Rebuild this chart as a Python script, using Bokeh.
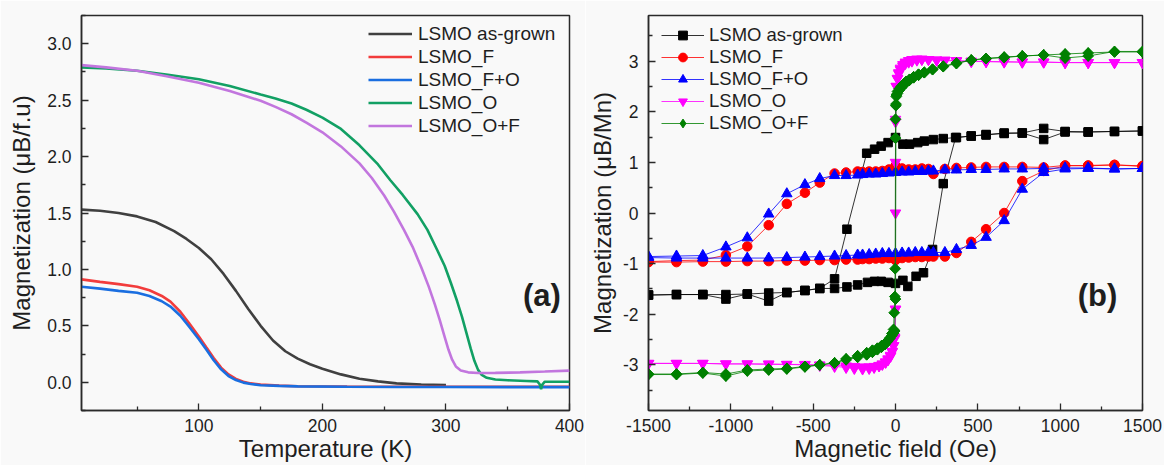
import math
from bokeh.plotting import figure
from bokeh.models import (Range1d, FixedTicker, PrintfTickFormatter, Label,
                          Legend, LegendItem, ColumnDataSource)
from bokeh.layouts import row
from bokeh.embed import file_html
from bokeh.resources import INLINE

FONT = "Liberation Sans"
TXT = "#1e1e1e"
AXC = "#2a2a2a"
BG = "#f9f9f9"

# ---------------- panel (a): M(T) ----------------
T_asgrown = [5, 20, 35, 50, 65, 80, 90, 100, 110, 120, 130, 140, 150, 160, 170, 180,
             190, 200, 215, 230, 245, 260, 280, 300]
M_asgrown = [1.530, 1.52, 1.50, 1.47, 1.42, 1.34, 1.27, 1.19, 1.09, 0.96, 0.81, 0.65,
             0.50, 0.37, 0.275, 0.21, 0.16, 0.12, 0.07, 0.032, 0.008, -0.010, -0.020, -0.025]

T_F = [5, 20, 35, 50, 60, 70, 77, 85, 92, 100, 106, 112, 118, 124, 130, 136, 142, 150,
       165, 180, 220, 260, 300, 350, 400]
M_F = [0.912, 0.89, 0.87, 0.847, 0.815, 0.765, 0.715, 0.625, 0.525, 0.406, 0.31, 0.215,
       0.13, 0.07, 0.03, 0.005, -0.01, -0.02, -0.03, -0.035, -0.038, -0.04, -0.04, -0.04, -0.04]

T_FO = [5, 20, 35, 50, 60, 70, 77, 85, 92, 100, 106, 112, 118, 124, 130, 136, 142, 150,
        165, 180, 220, 260, 300, 350, 400]
M_FO = [0.847, 0.83, 0.81, 0.794, 0.765, 0.718, 0.671, 0.59, 0.495, 0.382, 0.29, 0.195,
        0.115, 0.055, 0.02, -0.003, -0.015, -0.026, -0.032, -0.036, -0.040, -0.042, -0.042,
        -0.043, -0.043]

T_O = [5, 25, 50, 75, 100, 125, 150, 162, 175, 187, 200, 215, 230, 245, 255, 265, 277, 285,
       293, 299, 304, 309, 313, 317, 320, 323, 326, 329, 333, 340, 350, 365, 374, 376, 377,
       378, 380, 390, 400]
M_O = [2.79, 2.78, 2.76, 2.725, 2.685, 2.625, 2.55, 2.515, 2.47, 2.415, 2.345, 2.245, 2.10,
       1.93, 1.79, 1.66, 1.49, 1.35, 1.17, 1.03, 0.88, 0.72, 0.58, 0.42, 0.30, 0.19, 0.11,
       0.065, 0.04, 0.025, 0.018, 0.012, 0.008, -0.02, -0.06, -0.02, 0.005, 0.005, 0.005]

T_OF = [5, 25, 50, 75, 100, 125, 150, 162, 175, 187, 200, 215, 230, 240, 250, 258, 266, 273,
        280, 286, 291, 295, 299, 302, 305, 308, 312, 318, 326, 340, 360, 380, 400]
M_OF = [2.81, 2.79, 2.76, 2.71, 2.655, 2.58, 2.495, 2.44, 2.375, 2.30, 2.215, 2.09, 1.94,
        1.81, 1.655, 1.51, 1.35, 1.20, 1.02, 0.85, 0.69, 0.55, 0.40, 0.29, 0.20, 0.14,
        0.105, 0.088, 0.082, 0.083, 0.088, 0.095, 0.103]

names_a = ["LSMO as-grown", "LSMO_F", "LSMO_F+O", "LSMO_O", "LSMO_O+F"]
colors_a = ["#404040", "#f23c3c", "#1a6ee0", "#12a064", "#c276de"]
temps_a = [T_asgrown, T_F, T_FO, T_O, T_OF]
mags_a = [M_asgrown, M_F, M_FO, M_O, M_OF]

# ---------------- panel (b): M(H) loops ----------------
bk_H_down = [1500, 1330, 1170, 1030, 900, 770, 660, 550, 460, 370, 290, 230, 175, 135, 85, 45,
             0, -45, -87, -127, -175, -295, -370, -460, -550, -660, -770, -900, -1030, -1170,
             -1330, -1500]
bk_M_down = [1.62, 1.61, 1.60, 1.61, 1.67, 1.58, 1.58, 1.54, 1.52, 1.49, 1.47, 1.45, 1.42,
             1.39, 1.36, 1.36, 1.49, 1.39, 1.32, 1.26, 1.18, -0.32, -1.30, -1.49, -1.53,
             -1.57, -1.74, -1.60, -1.70, -1.61, -1.61, -1.62]
bk_H_up = [-1500, -1330, -1170, -1030, -900, -770, -660, -550, -460, -370, -295, -230, -170,
           -127, -87, -45, 0, 45, 75, 125, 170, 225, 290, 365, 460, 550, 660, 770, 900, 1030,
           1170, 1330, 1500]
bk_M_up = [-1.62, -1.61, -1.61, -1.61, -1.60, -1.58, -1.57, -1.53, -1.49, -1.49, -1.46, -1.42,
           -1.37, -1.35, -1.35, -1.37, -1.39, -1.33, -1.45, -1.25, -1.18, -0.72, 0.58, 1.49,
           1.52, 1.55, 1.57, 1.58, 1.45, 1.60, 1.60, 1.61, 1.62]

fb_H_down = [1500, 1330, 1170, 1030, 900, 770, 660, 550, 460, 370, 300, 230, 200, 160, 120,
             80, 40, 0, -40, -80, -120, -160, -200, -230, -300, -370, -460, -550, -660, -770,
             -900, -1030, -1170, -1330, -1500]
fb_H_up = [-1500, -1330, -1170, -1030, -900, -770, -660, -550, -460, -370, -300, -230, -200,
           -160, -120, -80, -40, 0, 40, 80, 120, 160, 200, 230, 300, 370, 460, 550, 660, 770,
           900, 1030, 1170, 1330, 1500]
rd_M_down = [0.92, 0.95, 0.93, 0.94, 0.90, 0.91, 0.91, 0.91, 0.90, 0.89, 0.87, 0.77, 0.87,
             0.88, 0.86, 0.86, 0.88, 0.93, 0.86, 0.83, 0.82, 0.82, 0.81, 0.82, 0.80, 0.78,
             0.60, 0.40, 0.18, -0.24, -0.66, -0.83, -0.93, -0.94, -0.96]
rd_M_up = [-0.97, -0.97, -0.96, -0.96, -0.95, -0.95, -0.94, -0.94, -0.93, -0.93, -0.92, -0.92,
           -0.91, -0.91, -0.90, -0.90, -0.89, -0.93, -0.89, -0.88, -0.87, -0.87, -0.86, -0.86,
           -0.86, -0.79, -0.57, -0.32, 0.00, 0.63, 0.83, 0.93, 0.94, 0.95, 0.93]
bl_M_down = [0.88, 0.87, 0.89, 0.89, 0.88, 0.87, 0.87, 0.86, 0.86, 0.85, 0.85, 0.83, 0.83,
             0.82, 0.82, 0.81, 0.81, 0.80, 0.79, 0.78, 0.77, 0.77, 0.76, 0.75, 0.74, 0.74,
             0.68, 0.56, 0.38, -0.02, -0.49, -0.67, -0.84, -0.85, -0.86]
bl_M_up = [-0.88, -0.89, -0.89, -0.89, -0.89, -0.89, -0.88, -0.87, -0.86, -0.85, -0.84, -0.83,
           -0.83, -0.82, -0.81, -0.80, -0.80, -0.80, -0.79, -0.79, -0.78, -0.78, -0.78, -0.78,
           -0.78, -0.72, -0.64, -0.48, -0.15, 0.47, 0.80, 0.87, 0.88, 0.87, 0.88]

mg_H_down = [1500, 1330, 1170, 1030, 900, 770, 660, 550, 460, 370, 300, 250, 200, 160, 130,
             100, 80, 60, 45, 30, 20, 12, 5, 0, 0, 0, 0, -5, -12, -20, -30, -45, -60, -80,
             -100, -130, -160, -200, -250, -300, -370, -460, -550, -660, -770, -900, -1030,
             -1170, -1330, -1500]
mg_M_down = [2.97, 2.97, 2.97, 2.97, 2.98, 2.98, 2.99, 2.99, 3.00, 3.01, 3.02, 3.02, 3.03,
             3.03, 3.02, 3.00, 2.98, 2.95, 2.90, 2.83, 2.75, 2.65, 2.50, 1.80, 1.00, 0.00,
             -1.90, -2.45, -2.62, -2.74, -2.83, -2.90, -2.95, -2.99, -3.02, -3.05, -3.07,
             -3.08, -3.07, -3.05, -3.03, -3.01, -3.00, -2.99, -2.99, -2.98, -2.98, -2.97,
             -2.97, -2.97]
mg_H_up = [-1500, -1330, -1170, -1030, -900, -770, -660, -550, -460, -370, -300, -250, -200,
           -160, -130, -100, -80, -60, -45, -30, -20, -12, -5, 0, 0, 5, 12, 20, 30, 45, 60,
           80, 100, 130, 160, 200, 250, 300, 370, 460, 550, 660, 770, 900, 1030, 1170, 1330,
           1500]
mg_M_up = [-2.97, -2.97, -2.97, -2.98, -2.98, -2.98, -2.99, -2.99, -3.00, -3.01, -3.02, -3.03,
           -3.04, -3.04, -3.03, -3.01, -2.98, -2.94, -2.88, -2.81, -2.73, -2.62, -2.48,
           -1.90, 1.85, 2.50, 2.66, 2.77, 2.86, 2.93, 2.98, 3.01, 3.03, 3.04, 3.04, 3.03,
           3.02, 3.01, 3.00, 2.99, 2.99, 2.98, 2.98, 2.98, 2.97, 2.97, 2.97, 2.97]

gr_H_down = [1500, 1330, 1170, 1030, 900, 770, 660, 550, 460, 370, 290, 225, 175, 140, 110,
             85, 65, 50, 35, 22, 12, 5, 2, 0, 0, -2, -4, -8, -12, -22, -35, -50, -65, -85,
             -110, -140, -175, -230, -300, -370, -460, -550, -660, -770, -900, -1030, -1170,
             -1330, -1500]
gr_M_down = [3.18, 3.18, 3.16, 3.14, 3.12, 3.10, 3.07, 3.05, 3.02, 2.95, 2.89, 2.83, 2.77,
             2.72, 2.67, 2.62, 2.57, 2.53, 2.47, 2.42, 2.36, 2.30, 2.12, 1.85, 1.48, -1.10,
             -1.65, -1.97, -2.30, -2.38, -2.47, -2.54, -2.60, -2.65, -2.70, -2.75, -2.80,
             -2.85, -2.90, -2.96, -3.00, -3.03, -3.07, -3.08, -3.10, -3.18, -3.15, -3.18, -3.18]
gr_H_up = [-1500, -1330, -1170, -1030, -900, -770, -660, -550, -460, -370, -300, -230, -175,
           -140, -110, -85, -65, -50, -35, -22, -12, -5, 0, 3, 6, 12, 22, 35, 50, 65, 85, 110,
           140, 175, 225, 290, 370, 460, 550, 660, 770, 900, 1030, 1170, 1330, 1500]
gr_M_up = [-3.19, -3.19, -3.16, -3.22, -3.12, -3.10, -3.08, -3.04, -3.00, -2.96, -2.88, -2.82,
           -2.76, -2.71, -2.67, -2.62, -2.58, -2.53, -2.48, -2.42, -2.37, -2.33, -1.70, 2.15,
           2.33, 2.40, 2.45, 2.50, 2.55, 2.60, 2.64, 2.69, 2.74, 2.78, 2.84, 2.90, 2.96, 3.02,
           3.05, 3.08, 3.10, 3.12, 3.06, 3.10, 3.19, 3.19]

names_b = ["LSMO as-grown", "LSMO_F", "LSMO_F+O", "LSMO_O", "LSMO_O+F"]
colors_b = ["#000000", "#ff0000", "#0000ff", "#ff00ff", "#008000"]
markers_b = ["square", "circle", "triangle", "inverted_triangle", "square"]
sizes_b = [8.5, 9.5, 10.5, 10.5, 7.6]
angles_b = [0, 0, 0, 0, math.pi / 4]
# marker drawn beneath the data marks and used as the legend key
keys_b = [None, None, None, None, ("diamond", 10.5)]
loops_b = [
    (bk_H_down, bk_M_down, bk_H_up, bk_M_up),
    (fb_H_down, rd_M_down, fb_H_up, rd_M_up),
    (fb_H_down, bl_M_down, fb_H_up, bl_M_up),
    (mg_H_down, mg_M_down, mg_H_up, mg_M_up),
    (gr_H_down, gr_M_down, gr_H_up, gr_M_up),
]


def style_axes(p, xt, xm, yt, ym, xfmt, yfmt, xlabel, ylabel, ylab_standoff):
    p.xaxis.ticker = FixedTicker(ticks=xt, minor_ticks=xm)
    p.yaxis.ticker = FixedTicker(ticks=yt, minor_ticks=ym)
    p.xaxis.formatter = PrintfTickFormatter(format=xfmt)
    p.yaxis.formatter = PrintfTickFormatter(format=yfmt)
    p.xaxis.axis_label = xlabel
    p.yaxis.axis_label = ylabel
    for ax in (p.xaxis[0], p.yaxis[0]):
        ax.major_tick_in = 7
        ax.major_tick_out = 0
        ax.minor_tick_in = 4
        ax.minor_tick_out = 0
        ax.axis_line_width = 1.5
        ax.axis_line_color = AXC
        ax.major_tick_line_color = AXC
        ax.minor_tick_line_color = AXC
        ax.major_tick_line_width = 1.3
        ax.minor_tick_line_width = 1.3
        ax.major_label_text_font = FONT
        ax.major_label_text_font_size = "17.5px"
        ax.major_label_text_color = TXT
        ax.axis_label_text_font = FONT
        ax.axis_label_text_font_size = "24px"
        ax.axis_label_text_font_style = "normal"
        ax.axis_label_text_color = TXT
    p.xaxis.major_label_standoff = 8
    p.yaxis.major_label_standoff = 10
    p.xaxis.axis_label_standoff = 0
    p.yaxis.axis_label_standoff = ylab_standoff
    p.xgrid.visible = False
    p.ygrid.visible = False
    p.outline_line_color = AXC
    p.outline_line_width = 1.5
    p.outline_line_alpha = 1.0


# ---------------- figure (a) ----------------
pa = figure(width=585, height=465, output_backend="svg", toolbar_location=None,
            x_range=Range1d(5, 400), y_range=Range1d(-0.25, 3.25),
            min_border_left=81, min_border_right=16, min_border_top=15, min_border_bottom=55,
            background_fill_color=BG, border_fill_color=BG, title=None)
style_axes(pa, [100, 200, 300, 400], [50, 150, 250, 350],
           [0, 0.5, 1.0, 1.5, 2.0, 2.5, 3.0],
           [0.25, 0.75, 1.25, 1.75, 2.25, 2.75, 3.25, -0.25],
           "%d", "%.1f", "Temperature (K)", "Magnetization (\u03bcB/f.u)", 9)

items_a = []
for name, col, T, M in zip(names_a, colors_a, temps_a, mags_a):
    src = ColumnDataSource(dict(T=T, M=M))
    r = pa.line("T", "M", source=src, line_color=col, line_width=2.6)
    items_a.append(LegendItem(label=name, renderers=[r]))

leg_a = Legend(items=items_a, location=(287, 273), orientation="vertical",
               glyph_width=44, glyph_height=23, label_height=23, spacing=0,
               label_standoff=6, padding=0, margin=0,
               border_line_alpha=0, background_fill_alpha=0,
               label_text_font=FONT, label_text_font_size="19px", label_text_color=TXT)
pa.add_layout(leg_a)

pa.add_layout(Label(x=377.7, y=0.77, text="(a)", text_align="center", text_baseline="middle",
                    text_font=FONT, text_font_size="31px", text_font_style="bold",
                    text_color=TXT))

# ---------------- figure (b) ----------------
pb = figure(width=579, height=465, output_backend="svg", toolbar_location=None,
            x_range=Range1d(-1500, 1500), y_range=Range1d(-3.9, 3.9),
            min_border_left=63, min_border_right=22, min_border_top=13, min_border_bottom=54,
            background_fill_color=BG, border_fill_color=BG, title=None)
style_axes(pb, [-1500, -1000, -500, 0, 500, 1000, 1500],
           [-1250, -750, -250, 250, 750, 1250],
           [-3, -2, -1, 0, 1, 2, 3],
           [-3.5, -2.5, -1.5, -0.5, 0.5, 1.5, 2.5, 3.5],
           "%d", "%d", "Magnetic field (Oe)", "Magnetization (\u03bcB/Mn)", 4)

items_b = []
for name, col, mk, sz, ang, key, (hd, md, hu, mu) in zip(
        names_b, colors_b, markers_b, sizes_b, angles_b, keys_b, loops_b):
    src_d = ColumnDataSource(dict(H=hd, M=md))
    src_u = ColumnDataSource(dict(H=hu, M=mu))
    l1 = pb.line("H", "M", source=src_d, line_color=col, line_width=1, line_alpha=0.8)
    pb.line("H", "M", source=src_u, line_color=col, line_width=1, line_alpha=0.8)
    key_r = None
    if key is not None:
        key_r = pb.scatter("H", "M", source=src_d, marker=key[0], size=key[1],
                           fill_color=col, line_color=col)
        pb.scatter("H", "M", source=src_u, marker=key[0], size=key[1],
                   fill_color=col, line_color=col)
    s1 = pb.scatter("H", "M", source=src_d, marker=mk, size=sz, angle=ang,
                    fill_color=col, line_color=col)
    pb.scatter("H", "M", source=src_u, marker=mk, size=sz, angle=ang,
               fill_color=col, line_color=col)
    items_b.append(LegendItem(label=name, renderers=[l1, key_r if key_r is not None else s1]))

leg_b = Legend(items=items_b, location=(13, 276), orientation="vertical",
               glyph_width=43, glyph_height=22, label_height=22, spacing=0,
               label_standoff=5, padding=0, margin=0,
               border_line_alpha=0, background_fill_alpha=0,
               label_text_font=FONT, label_text_font_size="18.5px", label_text_color=TXT)
pb.add_layout(leg_b)

pb.add_layout(Label(x=1227, y=-1.63, text="(b)", text_align="center", text_baseline="middle",
                    text_font=FONT, text_font_size="31px", text_font_style="bold",
                    text_color=TXT))

layout = row(pa, pb)
open("out.html", "w").write(file_html(layout, INLINE))
